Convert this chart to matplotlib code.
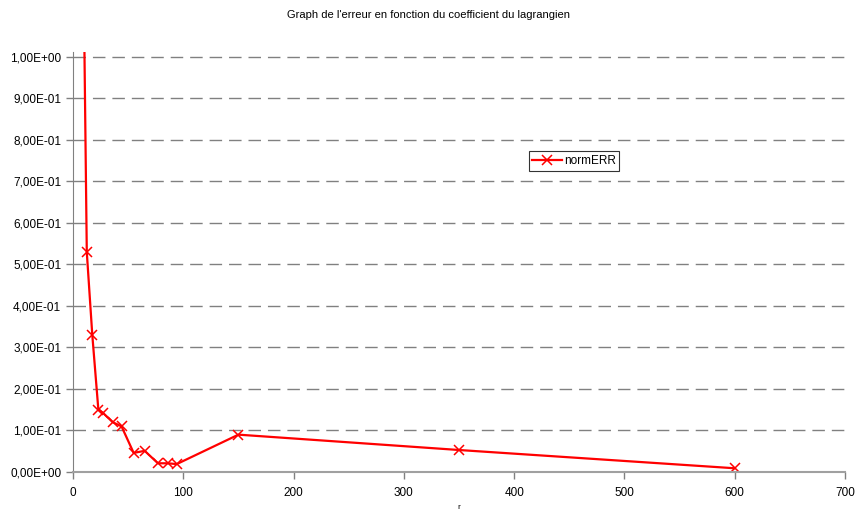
import matplotlib
matplotlib.use('Agg')
import matplotlib.pyplot as plt
from matplotlib.ticker import FuncFormatter

# coefficient du lagrangien et erreur normee
coef = [10, 12.5, 17.5, 23, 27, 36, 44, 55, 65, 77, 86, 94, 150, 350, 600]
normERR = [1.10, 0.53, 0.33, 0.15, 0.143, 0.12, 0.11, 0.046, 0.051, 0.021, 0.021, 0.019, 0.09, 0.053, 0.009]

plt.rcParams['font.family'] = ['Liberation Sans', 'DejaVu Sans']

def sci_fr(v, pos):
  s = "%.2E" % v
  return s.replace('.', ',')

fig = plt.figure(figsize=(8.57, 5.12), dpi=100)
ax = fig.add_axes([73/857., 1 - 472/512., 772/857., 420/512.])
ax.plot(coef, normERR, color='#ff0000', lw=1.6, marker='x', markersize=7,
        markeredgewidth=1.1, label='normERR', clip_on=True)

ax.set_xlim(0, 700)
ax.set_ylim(0, 1.012)
ax.set_xticks(range(0, 701, 100))
ax.set_yticks([i / 10. for i in range(11)])
ax.yaxis.set_major_formatter(FuncFormatter(sci_fr))
ax.tick_params(labelsize=8.5, length=5, color='#808080', width=1)
ax.tick_params(axis='x', pad=6)

for s in ['top', 'right']:
  ax.spines[s].set_visible(False)
ax.spines['left'].set_color('#808080')
ax.spines['bottom'].set_color('#a0a0a0')
ax.spines['bottom'].set_linewidth(1.5)

for i in range(1, 11):
  ax.axhline(i / 10., color='#808080', lw=1, dashes=(9, 5), zorder=0)

fig.text(0.5, 1 - 15/512., "Graph de l'erreur en fonction du coefficient du lagrangien",
         ha='center', va='center', fontsize=8)
fig.text(459/857., 1/512., "r", ha='center', va='bottom', fontsize=6)

leg = ax.legend(loc='center', bbox_to_anchor=(574/857., 1 - 161/512.),
                bbox_transform=fig.transFigure, fontsize=8.5, frameon=True,
                fancybox=False, handlelength=2.5, borderpad=0.3, handletextpad=0.2)
leg.get_frame().set_edgecolor('#000000')
leg.get_frame().set_linewidth(0.8)

plt.savefig('out.png')
plt.close()
